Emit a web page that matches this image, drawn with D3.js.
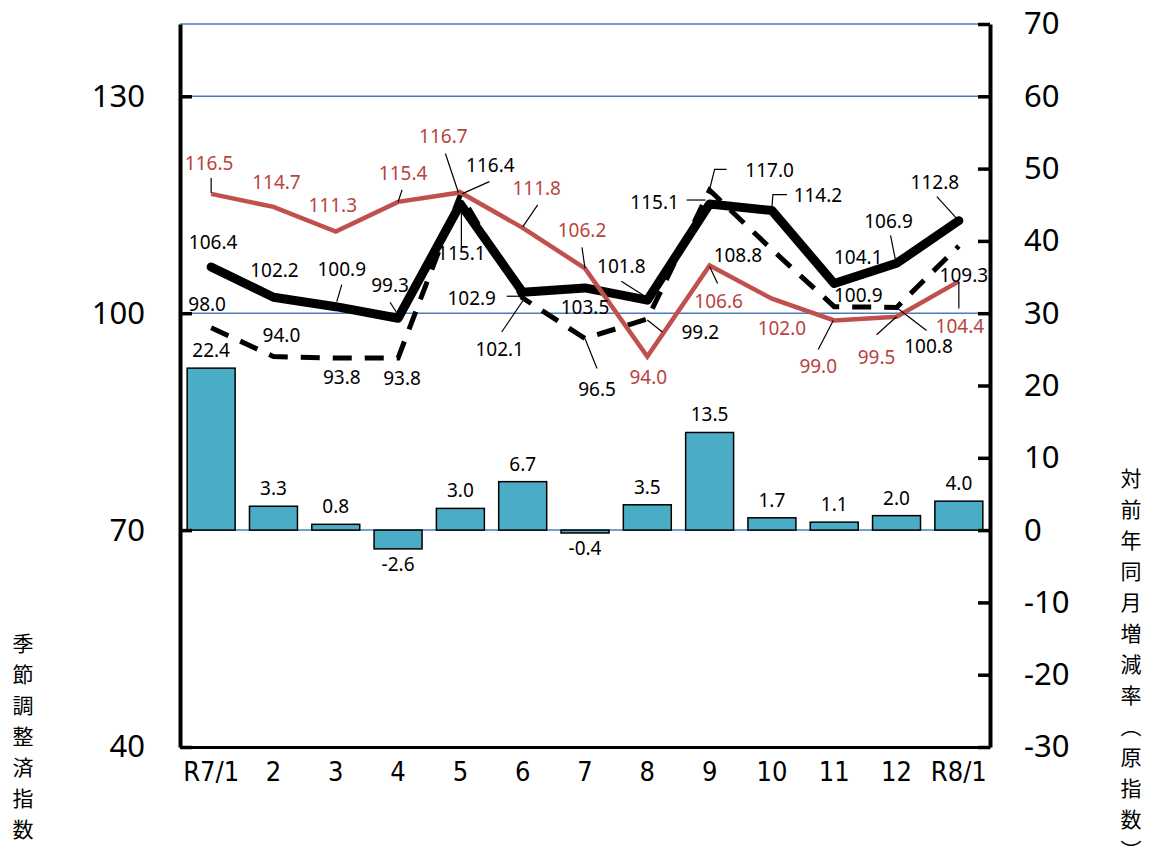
<!DOCTYPE html>
<html>
<head>
<meta charset="utf-8">
<script src="https://cdn.jsdelivr.net/npm/d3@7"></script>
<style>
  body { margin: 0; background: #fff; }
  svg { display: block; }
</style>
</head>
<body>
<svg id="chart"></svg>
<script>
// data
const categories = ["R7/1", "2", "3", "4", "5", "6", "7", "8", "9", "10", "11", "12", "R8/1"];
const saIndex   = [106.4, 102.2, 100.9, 99.3, 115.1, 102.9, 103.5, 101.8, 115.1, 114.2, 104.1, 106.9, 112.8]; // solid
const origIndex = [98.0, 94.0, 93.8, 93.8, 116.4, 102.1, 96.5, 99.2, 117.0, 108.8, 100.9, 100.8, 109.3];    // dashed
const redIndex  = [116.5, 114.7, 111.3, 115.4, 116.7, 111.8, 106.2, 94.0, 106.6, 102.0, 99.0, 99.5, 104.4];
const yoyRate   = [22.4, 3.3, 0.8, -2.6, 3.0, 6.7, -0.4, 3.5, 13.5, 1.7, 1.1, 2.0, 4.0];
const leftTicks = [40, 70, 100, 130];
const rightTicks = [-30, -20, -10, 0, 10, 20, 30, 40, 50, 60, 70];
const gridValues = [70, 100, 130, 140];

// label placement (dx, dy from point) and leader lines (offsets from point)
const redLabelPos = [[-2,-31],[3,-25],[-3,-27],[5,-29],[-17,-56],[14,-40],[-3,-38],[1,20],[9,36],[10,29],[-16,46],[-20,40],[1,45]];
const redLeaders = [[[0,-16],[0,-1]], null, null, [[4,-12],[0,0]], [[-15,-39],[-2,0]], [[15,-23],[0,-1]], [[-3,-21],[0,0]], null, [[8,18],[0,1]], null, [[-16,29],[-1,0]], [[-20,18],[0,0]], [[0,27],[0,0]]];
const saLabelPos = [[2,-25],[1,-27],[6,-38],[-8,-33],[1,49],[-51,6],[0,19],[-26,-34],[-55,-2],[46,-16],[24,-27],[-8,-42],[-24,-39]];
const saLeaders = [null, null, [[6,-22],[1,-5]], [[-8,-16],[-1,-5]], [[1,42],[1,1]], [[-16,4],[0,4]], null, [[-26,-19],[-4,-5]], [[-23,-4],[-4,-4]], [[15,-16],[1,-16],[0,-3]], null, [[-6,-28],[-1,-3]], [[-22,-24],[-2,-2]]];
const origLabelPos = [[-4,-24],[8,-22],[6,19],[4,20],[30,-30],[-23,51],[12,50],[53,13],[60,-20],[-34,5],[24,-12],[32,39],[5,29]];
const origLeaders = [null, null, null, null, [[29,-13],[2,-1]], [[-21,34],[0,3]], [[12,30],[0,0],[-2,-2]], [[15,13],[0,1]], [[17,-21],[5,-21],[-1,3]], null, null, [[30,23],[0,0]], null];

const width = 1151;
const height = 855;
const margin = { left: 180, right: 161, top: 24, bottom: 108 };
const x0 = margin.left, x1 = width - margin.right;
const y0 = margin.top, y1 = height - margin.bottom;

const svg = d3.select('#chart')
  .attr('width', width)
  .attr('height', height);

// scales
const xBand = d3.scaleBand()
  .domain(categories)
  .range([x0, x1])
  .paddingInner(0.23)
  .paddingOuter(0.115);
const xMid = d => xBand(d) + xBand.bandwidth() / 2;

const yLeft = d3.scaleLinear().domain([40, 140]).range([y1, y0]);
const yRight = d3.scaleLinear().domain([-30, 70]).range([y1, y0]);

// gridlines
svg.append('g')
  .selectAll('line')
  .data(gridValues)
  .enter().append('line')
  .attr('x1', x0).attr('x2', x1)
  .attr('y1', d => yLeft(d)).attr('y2', d => yLeft(d))
  .attr('stroke', '#4a7ebb')
  .attr('stroke-width', 1.5);

// bars
svg.append('g')
  .selectAll('rect')
  .data(yoyRate)
  .enter().append('rect')
  .attr('x', (d, i) => xBand(categories[i]))
  .attr('width', xBand.bandwidth())
  .attr('y', d => yRight(Math.max(0, d)))
  .attr('height', d => Math.abs(yRight(d) - yRight(0)))
  .attr('fill', '#4bacc6')
  .attr('stroke', '#000')
  .attr('stroke-width', 1.5);

// lines
const lineL = d3.line()
  .x((d, i) => xMid(categories[i]))
  .y(d => yLeft(d));

svg.append('path')
  .datum(origIndex)
  .attr('d', lineL)
  .attr('fill', 'none')
  .attr('stroke', '#000')
  .attr('stroke-width', 5)
  .attr('stroke-dasharray', '19,13');

svg.append('path')
  .datum(saIndex)
  .attr('d', lineL)
  .attr('fill', 'none')
  .attr('stroke', '#000')
  .attr('stroke-width', 9)
  .attr('stroke-linejoin', 'round')
  .attr('stroke-linecap', 'round');

svg.append('path')
  .datum(redIndex)
  .attr('d', lineL)
  .attr('fill', 'none')
  .attr('stroke', '#c0504d')
  .attr('stroke-width', 4.5);

// leader lines + labels
function addLabels(values, pos, leaders, color) {
  const g = svg.append('g');
  values.forEach((v, i) => {
    const px = xMid(categories[i]);
    const py = yLeft(v);
    if (leaders[i]) {
      g.append('path')
        .attr('d', d3.line()(leaders[i].map(p => [px + p[0], py + p[1]])))
        .attr('fill', 'none')
        .attr('stroke', '#000')
        .attr('stroke-width', 1.2);
    }
    g.append('text')
      .attr('x', px + pos[i][0])
      .attr('y', py + pos[i][1])
      .attr('text-anchor', 'middle')
      .attr('dominant-baseline', 'central')
      .attr('font-family', '"Noto Sans", sans-serif')
      .attr('font-size', '19px')
      .attr('fill', color)
      .text(v.toFixed(1));
  });
}
addLabels(redIndex, redLabelPos, redLeaders, '#b8443f');
addLabels(origIndex, origLabelPos, origLeaders, '#000');
addLabels(saIndex, saLabelPos, saLeaders, '#000');

// bar labels
svg.append('g')
  .selectAll('text')
  .data(yoyRate)
  .enter().append('text')
  .attr('x', (d, i) => xMid(categories[i]))
  .attr('y', d => d >= 0 ? yRight(d) - 18 : yRight(d) + 15)
  .attr('text-anchor', 'middle')
  .attr('dominant-baseline', 'central')
  .attr('font-family', '"Noto Sans", sans-serif')
  .attr('font-size', '19px')
  .attr('fill', '#000')
  .text(d => d.toFixed(1));

// axes
const axisLeft = svg.append('g')
  .attr('transform', `translate(${x0},0)`)
  .call(d3.axisLeft(yLeft).tickValues(leftTicks).tickSizeInner(-12).tickSizeOuter(0).tickPadding(35));

const axisRight = svg.append('g')
  .attr('transform', `translate(${x1},0)`)
  .call(d3.axisRight(yRight).tickValues(rightTicks).tickFormat(d => String(d))
    .tickSizeInner(-12).tickSizeOuter(0).tickPadding(34));

[axisLeft, axisRight].forEach(a => {
  a.select('.domain').attr('stroke', '#000').attr('stroke-width', 4);
  a.selectAll('.tick line').attr('stroke', '#000').attr('stroke-width', 3.5);
  a.selectAll('.tick text')
    .attr('font-family', '"Noto Sans", sans-serif')
    .attr('font-size', '31px')
    .attr('fill', '#000');
});

const axisBottom = svg.append('g')
  .attr('transform', `translate(0,${y1})`)
  .call(d3.axisBottom(xBand).tickSize(0).tickPadding(15));
axisBottom.select('.domain').attr('stroke', '#000').attr('stroke-width', 3);
axisBottom.selectAll('.tick text')
  .attr('font-family', '"Liberation Sans Narrow", "DejaVu Sans Condensed", sans-serif')
  .attr('font-size', '27px')
  .attr('fill', '#000');

// axis titles (vertical)
svg.append('text')
  .attr('x', 23)
  .attr('y', 633)
  .style('writing-mode', 'vertical-rl')
  .attr('font-family', '"Noto Sans CJK JP", sans-serif')
  .attr('font-size', '21px')
  .attr('letter-spacing', '10px')
  .attr('fill', '#000')
  .text('季節調整済指数');

svg.append('text')
  .attr('x', 1131)
  .attr('y', 468)
  .style('writing-mode', 'vertical-rl')
  .attr('font-family', '"Noto Sans CJK JP", sans-serif')
  .attr('font-size', '21px')
  .attr('letter-spacing', '10px')
  .attr('fill', '#000')
  .text('対前年同月増減率（原指数）');
</script>
</body>
</html>
